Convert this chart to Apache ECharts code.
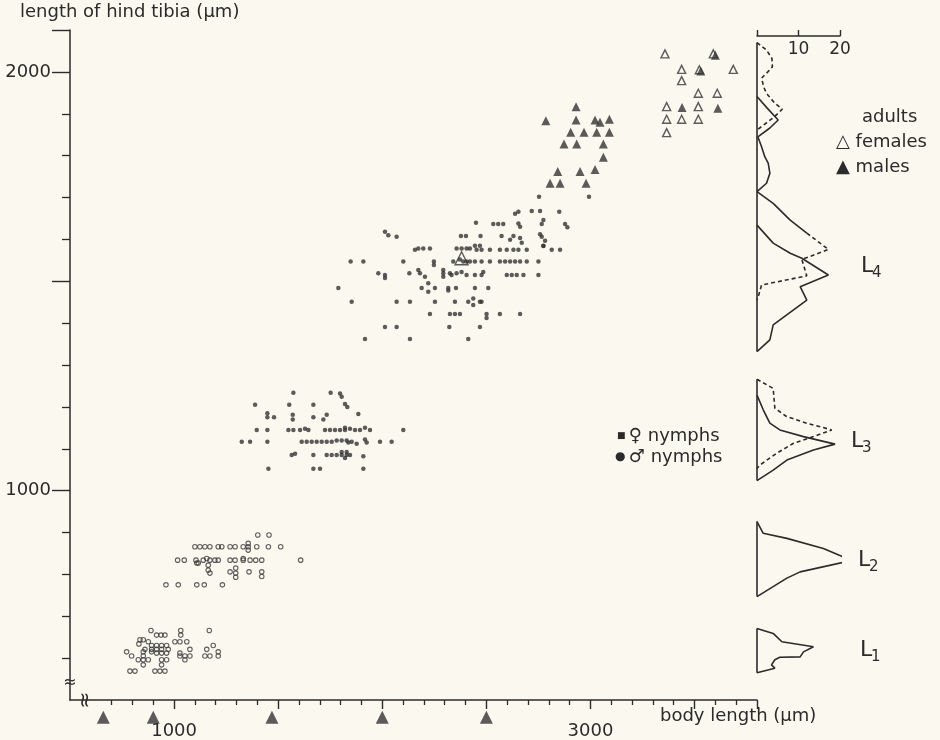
<!DOCTYPE html>
<html><head><meta charset="utf-8">
<script src="https://cdn.jsdelivr.net/npm/echarts@6/dist/echarts.min.js"></script>
<style>html,body{margin:0;padding:0;background:#fbf8f0}#c{width:940px;height:740px}</style>
</head><body><div id="c"></div>
<script>
// ---- axis ranges & ticks ----
const xRange = [500, 3800];
const yRange = [500, 2100];
const freqRange = [0, 20];
const xMinorTicks = [700,800,900,1100,1200,1300,1400,1600,1700,1800,1900,2100,2200,2300,2400,2600,2700,2800,2900,3100,3200,3300,3400,3600,3700];
const xMajorTicks = [1000,1500,2000,2500,3000,3500,3800];
const xTickLabels = [1000,3000];
const yMinorTicks = [600,700,800,900,1100,1200,1300,1400,1600,1700,1800,1900];
const yMajorTicks = [1000,1500,2000,2100];
const yTickLabels = [1000,2000];
const freqTicks = [0,10,20];
const freqTickLabels = [10,20];

// ---- scatter data: [body length, hind tibia length] (µm) ----
const L1_points = [[889,666],[916,655],[937,655],[956,655],[1032,666],[1032,655],[1169,666],
 [836,644],[852,644],[831,634],[876,639],[1004,639],[1028,639],[1061,639],
 [892,630],[916,630],[940,630],[964,630],[860,621],[892,621],[916,621],[940,621],[972,621],[1076,621],[1157,621],[1188,630],
 [772,615],[796,605],[852,615],[852,605],[892,615],[916,612],[940,612],[964,612],[1028,612],[1028,605],[1052,605],[1076,605],[1148,605],[1172,605],[1212,615],[1212,605],
 [828,596],[852,596],[876,596],[852,584],[940,596],[964,596],[940,584],[1052,596],
 [788,569],[812,569],[908,569],[932,569],[956,569]];
const L2_points = [[1402,894],[1456,894],
 [1100,866],[1124,866],[1148,866],[1172,866],[1212,866],[1229,866],[1269,866],[1293,866],[1332,866],[1356,874],[1356,866],[1356,858],[1397,866],[1453,866],[1512,866],
 [1017,834],[1049,834],[1105,834],[1116,827],[1140,834],[1157,838],[1172,834],[1196,834],[1212,834],[1269,834],[1293,834],[1332,838],[1332,834],[1365,834],[1392,834],[1421,834],[1608,834],
 [1109,827],[1164,822],[1164,810],[1172,803],[1269,806],[1296,815],[1296,803],[1296,793],[1360,806],[1421,806],[1421,795],
 [961,775],[1020,775],[1109,775],[1145,775],[1232,775]];
const L3_points = [[1573,1234],[1752,1234],[1797,1232],[1805,1224],
 [1389,1205],[1553,1205],[1669,1205],[1821,1207],[1832,1200],
 [1448,1185],[1448,1175],[1480,1175],[1570,1181],[1570,1170],[1669,1175],[1733,1181],[1717,1170],[1885,1183],
 [1397,1145],[1448,1145],[1549,1145],[1573,1145],[1605,1145],[1629,1148],[1645,1145],[1725,1145],[1749,1145],[1773,1145],[1797,1145],[1821,1150],[1821,1145],[1845,1148],[1869,1145],[1893,1145],[1917,1150],[1941,1145],[2101,1145],
 [1325,1117],[1365,1117],[1448,1117],[1613,1117],[1637,1117],[1661,1117],[1685,1117],[1709,1117],[1733,1117],[1757,1117],[1781,1120],[1805,1120],[1829,1120],[1837,1115],[1853,1117],[1877,1112],[1917,1122],[1925,1115],[1989,1117],[2045,1117],
 [1565,1085],[1581,1088],[1669,1085],[1733,1085],[1757,1085],[1781,1085],[1805,1092],[1805,1085],[1821,1078],[1829,1092],[1829,1085],[1845,1085],[1909,1082],
 [1453,1052],[1669,1052],[1701,1052],[1909,1052]];
const L4_points = [[2753,1702],[2993,1702],
 [2654,1666],[2638,1661],[2718,1668],[2758,1668],[2850,1666],
 [2450,1640],[2533,1637],[2557,1637],[2581,1637],[2654,1638],[2662,1630],[2774,1646],[2766,1637],[2878,1637],[2889,1629],
 [2013,1618],[2029,1610],[2069,1606],
 [2378,1608],[2402,1608],[2472,1608],[2573,1608],[2614,1599],[2630,1608],[2662,1603],[2670,1592],[2758,1612],[2766,1606],[2782,1597],[2774,1584],
 [2157,1575],[2173,1578],[2197,1578],[2229,1578],[2357,1578],[2381,1578],[2405,1578],[2421,1578],[2445,1585],[2453,1575],[2469,1585],[2477,1575],[2517,1575],[2565,1575],[2598,1575],[2630,1575],[2654,1575],[2694,1575],[2774,1585],[2814,1575],[2854,1575],
 [1848,1547],[1909,1547],[2101,1547],[2248,1547],[2248,1539],[2341,1547],[2373,1552],[2389,1547],[2405,1547],[2421,1547],[2445,1547],[2477,1547],[2517,1547],[2565,1547],[2590,1547],[2614,1547],[2638,1547],[2662,1547],[2694,1547],[2750,1547],
 [1981,1519],[2013,1515],[2013,1508],[2130,1519],[2173,1527],[2181,1519],[2205,1511],[2293,1527],[2293,1519],[2293,1511],[2325,1519],[2333,1515],[2357,1519],[2381,1522],[2405,1515],[2445,1515],[2485,1522],[2477,1515],[2598,1515],[2622,1515],[2646,1515],[2678,1515],[2750,1515],
 [1789,1484],[2189,1484],[2221,1495],[2221,1475],[2253,1484],[2317,1484],[2317,1478],[2354,1484],[2445,1484],[2509,1484],
 [1853,1451],[2069,1451],[2133,1451],[2253,1451],[2349,1451],[2413,1451],[2437,1459],[2437,1443],[2469,1451],[2477,1451],
 [2229,1422],[2325,1422],[2349,1422],[2373,1422],[2501,1422],[2501,1412],[2565,1422],[2662,1422],
 [2013,1391],[2069,1391],[2322,1391],[2469,1391],
 [1917,1362],[2133,1362],[2413,1362]];
const adultMales = [[2931,1917],[2786,1883],[2931,1885],[3022,1885],[3046,1880],[3091,1887],
 [2905,1856],[2969,1856],[3030,1856],[3091,1856],[2873,1828],[2934,1828],[3062,1828],[3062,1796],
 [2843,1762],[2950,1762],[3022,1767],[2806,1734],[2854,1734],[2979,1734],
 [3600,2040],[3530,2002],[3440,1915],[3612,1913]];
const adultFemales = [[3358,2043],[3438,2006],[3438,1979],[3686,2006],[3518,1949],[3609,1949],
 [3366,1917],[3518,1917],[3366,1887],[3438,1887],[3518,1887],[3366,1855],[3590,2043],[3523,2005]];
const L4_mean = [[2381,1555]];
const moultMarks = [[660,459],[900,459],[1470,459],[2000,459],[2500,459]];

// ---- frequency polygons: [frequency, hind tibia length] ----
const adultsFemaleFreq = [[0,2070],[2.3,2052],[3.6,2032],[3.7,2012],[2.6,2000],[1.1,1985],[1.5,1969],[1.9,1957],[2.6,1945],[4.3,1925],[6.1,1911],[4.1,1892],[0,1861]];
const adultsMaleFreq = [[0,1941],[2.4,1914],[5.1,1885],[3.1,1866],[0.2,1845],[1.1,1821],[1.9,1797],[2.7,1782],[3.1,1758],[2.3,1734],[0,1714]];
const L4_freqA_solid = [[0,1714],[3.9,1686],[8,1646],[12,1615]];
const L4_freqA_dashed = [[12,1615],[17.2,1576],[10.8,1552],[12,1513],[1.1,1491],[0.3,1463],[0,1455]];
const L4_freqB = [[0,1634],[3.9,1591],[8,1567],[10.8,1555],[17.2,1515],[10.4,1487],[12,1455],[3.9,1396],[3.1,1360],[0,1332]];
const L3_freqDashed = [[0,1266],[3.9,1244],[4.3,1197],[7.1,1177],[12,1161],[18,1145],[13.6,1129],[8.8,1113],[4.7,1089],[0.7,1061],[0,1053]];
const L3_freqSolid = [[0,1228],[1.5,1193],[3.1,1161],[5.5,1145],[11.2,1129],[18.8,1111],[13.6,1097],[7.2,1073],[3.9,1049],[0,1024]];
const L2_freq = [[0,926],[1.5,898],[7.2,886],[16,862],[22.8,833],[10.4,806],[7.2,791],[0,747]];
const L1_freq = [[0,671],[3.9,659],[6,639],[6.3,635],[13.6,627],[11.2,615],[10.4,603],[5.5,602],[4.3,596],[3.5,584],[4.3,576],[0,565]];
const baselines = [[[0,2070],[0,1332]], [[0,1266],[0,1024]], [[0,926],[0,747]], [[0,671],[0,565]]];

// ---- styling ----
const BG = '#fbf8f0', INK = '#2b2b2b', FONT = 'DejaVu Sans';
const chart = echarts.init(document.getElementById('c'), null, {renderer:'canvas'});

function lineSeries(data, dashed) {
  return {type:'line', xAxisIndex:2, yAxisIndex:2, data, symbol:'none', clip:false, silent:true,
    lineStyle:{color:INK, width:1.6, type: dashed ? [4,3] : 'solid'}};
}
const txt = (left, top, text, size) => ({type:'text', left, top,
  style:{text, fill:INK, font: size + 'px "' + FONT + '"'}});
const plain = v => String(v);

const series = [
  {type:'scatter', data:L1_points, symbol:'circle', symbolSize:4.5, itemStyle:{color:'rgba(0,0,0,0)', borderColor:'#3a3a3a', borderWidth:1.1}},
  {type:'scatter', data:L2_points, symbol:'circle', symbolSize:4.5, itemStyle:{color:'rgba(0,0,0,0)', borderColor:'#3a3a3a', borderWidth:1.1}},
  {type:'scatter', data:L3_points, symbol:'circle', symbolSize:4.5, itemStyle:{color:'#333'}},
  {type:'scatter', data:L4_points, symbol:'circle', symbolSize:4.5, itemStyle:{color:'#333'}},
  {type:'scatter', data:adultFemales, symbol:'triangle', symbolSize:8, itemStyle:{color:BG, borderColor:'#333', borderWidth:1.4}},
  {type:'scatter', data:adultMales, symbol:'triangle', symbolSize:9, itemStyle:{color:'#333'}},
  {type:'scatter', data:L4_mean, symbol:'triangle', symbolSize:13, itemStyle:{color:'rgba(0,0,0,0)', borderColor:'#333', borderWidth:1.4}},
  {type:'scatter', data:moultMarks, symbol:'triangle', symbolSize:13, clip:false, itemStyle:{color:'#333'}},
  lineSeries(adultsFemaleFreq, true),
  lineSeries(adultsMaleFreq, false),
  lineSeries(L4_freqA_solid, false),
  lineSeries(L4_freqA_dashed, true),
  lineSeries(L4_freqB, false),
  lineSeries(L3_freqDashed, true),
  lineSeries(L3_freqSolid, false),
  lineSeries(L2_freq, false),
  lineSeries(L1_freq, false)
].concat(baselines.map(b => lineSeries(b, false)));

const axisLineStyle = {color:INK, width:1.5};
const labelStyle = {color:INK, fontSize:18, fontFamily:FONT, formatter:plain};

chart.setOption({
  backgroundColor: BG,
  animation: false,
  grid: [
    {left:70, top:30, width:687, height:670},
    {left:757, top:30, width:83, height:670}
  ],
  xAxis: [
    {gridIndex:0, type:'value', min:xRange[0], max:xRange[1], position:'bottom',
     axisLine:{lineStyle:axisLineStyle}, axisTick:{customValues:xMinorTicks, length:5, lineStyle:{color:INK, width:1.3}},
     axisLabel:{show:false}, splitLine:{show:false}},
    {gridIndex:0, type:'value', min:xRange[0], max:xRange[1], position:'bottom',
     axisLine:{show:false}, axisTick:{customValues:xMajorTicks, length:9, lineStyle:{color:INK, width:1.4}},
     axisLabel:Object.assign({customValues:xTickLabels, margin:22}, labelStyle), splitLine:{show:false}},
    {gridIndex:1, type:'value', min:freqRange[0], max:freqRange[1], position:'top', offset:-6,
     axisLine:{lineStyle:axisLineStyle}, axisTick:{customValues:freqTicks, length:6, lineStyle:{color:INK, width:1.4}},
     axisLabel:Object.assign({customValues:freqTickLabels, inside:true, margin:5}, labelStyle, {fontSize:17}), splitLine:{show:false}}
  ],
  yAxis: [
    {gridIndex:0, type:'value', min:yRange[0], max:yRange[1], position:'left',
     axisLine:{lineStyle:axisLineStyle}, axisTick:{customValues:yMinorTicks, length:8, lineStyle:{color:INK, width:1.3}},
     axisLabel:{show:false}, splitLine:{show:false}},
    {gridIndex:0, type:'value', min:yRange[0], max:yRange[1], position:'left',
     axisLine:{show:false}, axisTick:{customValues:yMajorTicks, length:18, lineStyle:{color:INK, width:1.4}},
     axisLabel:Object.assign({customValues:yTickLabels, margin:19}, labelStyle), splitLine:{show:false}},
    {gridIndex:1, type:'value', min:yRange[0], max:yRange[1], show:false}
  ],
  series,
  graphic: [
    txt(20, 3, 'length of hind tibia (µm)', 18),
    txt(660, 707, 'body length (µm)', 18),
    txt(862, 108, 'adults', 18),
    txt(836, 133, '△ females', 18),
    txt(836, 158, '▲ males', 18),
    {type:'text', left:617, top:427, style:{text:'{s|■} {t|♀ nymphs}', fill:INK,
      rich:{s:{fontSize:9, fontFamily:FONT, fill:INK}, t:{fontSize:18, fontFamily:FONT, fill:INK}}}},
    {type:'text', left:615, top:448, style:{text:'{s|●} {t|♂ nymphs}', fill:INK,
      rich:{s:{fontSize:12, fontFamily:FONT, fill:INK}, t:{fontSize:18, fontFamily:FONT, fill:INK}}}},
    txt(861, 255, 'L', 22), txt(872, 266, '4', 15),
    txt(851, 430, 'L', 22), txt(862, 441, '3', 15),
    txt(858, 549, 'L', 22), txt(869, 560, '2', 15),
    txt(860, 639, 'L', 22), txt(871, 650, '1', 15),
    {type:'text', x:70, y:683, style:{text:'≈', font:'16px "'+FONT+'"', fill:INK, align:'center', verticalAlign:'middle', backgroundColor:BG}},
    {type:'text', x:86, y:700, rotation:Math.PI/2, style:{text:'≈', font:'20px "'+FONT+'"', fill:INK, align:'center', verticalAlign:'middle', backgroundColor:BG}}
  ]
});
</script></body></html>
